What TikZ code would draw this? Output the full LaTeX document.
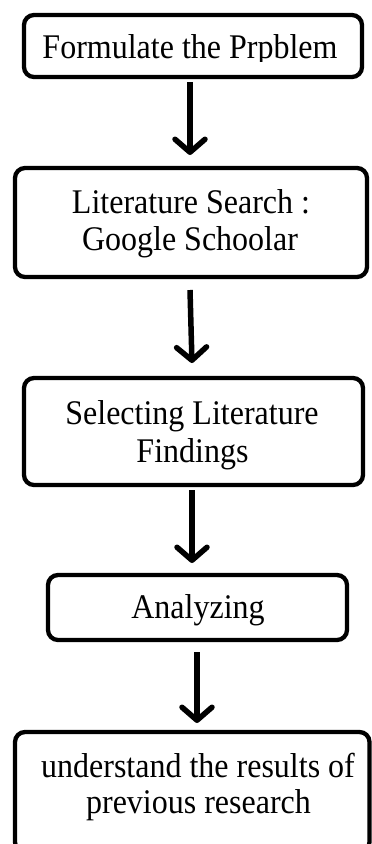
\documentclass[tikz,border=0pt]{standalone}
\usepackage{fontspec}
\setmainfont{Liberation Serif}
\usetikzlibrary{arrows.meta}
\newcommand{\tallt}[1]{\scalebox{1}[1.08]{#1}}
\begin{document}
\begin{tikzpicture}[x=1pt,y=-1pt,
  box/.style={draw=black,line width=4.3pt,rounded corners=10pt,outer sep=0pt,inner sep=0pt},
  txt/.style={anchor=base,inner sep=0pt,outer sep=0pt,font=\fontsize{32}{37}\selectfont},
  arr/.style={line width=5.5pt,-{Straight Barb[length=13pt,width=30pt,line join=round,line cap=round]}}]
\useasboundingbox (0,0) rectangle (372,844);
% boxes
\node[box,minimum width=338pt,minimum height=62pt] (b1) at (193,46) {};
\node[box,minimum width=352pt,minimum height=109pt] (b2) at (191,222.5) {};
\node[box,minimum width=339pt,minimum height=107pt] (b3) at (193.5,431.5) {};
\node[box,minimum width=299pt,minimum height=65pt] (b4) at (197.5,607.5) {};
\node[box,minimum width=354.5pt,minimum height=120pt] (b5) at (192.25,792) {};
% texts
\begin{scope}
\clip (0,0) rectangle (372,61);
\node[txt] (t1) at (190,58) {\tallt{Formulate the Prpblem}};
\end{scope}
\node[txt] (t2a) at (191,213) {\tallt{Literature Search :}};
\node[txt] (t2b) at (190,250) {\tallt{Google Schoolar}};
\node[txt] (t3a) at (192,424) {\tallt{Selecting Literature}};
\node[txt] (t3b) at (192.5,462) {\tallt{Findings}};
\node[txt] (t4) at (198,618) {\tallt{Analyzing}};
\node[txt] (t5a) at (198,777) {\tallt{understand the results of}};
\node[txt] (t5b) at (198.5,813) {\tallt{previous research}};
% arrows
\draw[arr] ([xshift=-3pt,yshift=-5pt]b1.south) -- ([xshift=-1pt,yshift=13pt]b2.north);
\draw[arr] ([xshift=-1pt,yshift=-13pt]b2.south) -- ([xshift=-1.5pt,yshift=15pt]b3.north);
\draw[arr] ([xshift=-1.5pt,yshift=-5pt]b3.south) -- ([xshift=-5.5pt,yshift=12pt]b4.north);
\draw[arr] ([xshift=-0.5pt,yshift=-12pt]b4.south) -- ([xshift=4.75pt,yshift=9pt]b5.north);
\end{tikzpicture}
\end{document}
